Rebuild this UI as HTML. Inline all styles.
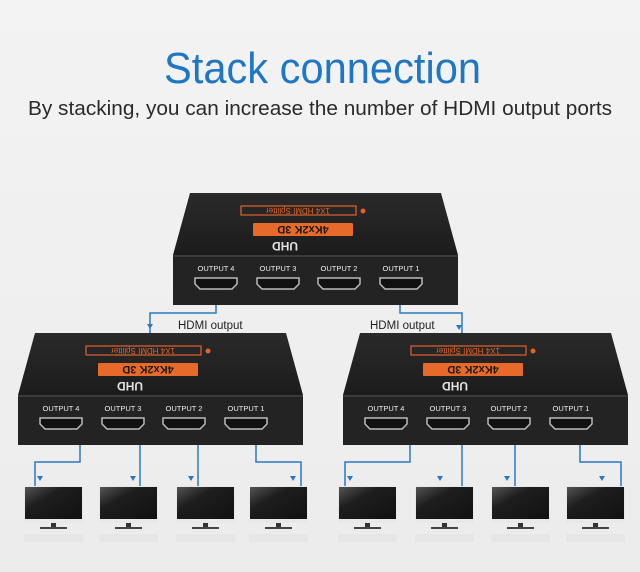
<!DOCTYPE html>
<html><head><style>html,body{margin:0;padding:0;background:#f0f0f0;}svg{display:block}</style></head>
<body>
<svg width="640" height="572" viewBox="0 0 640 572" xmlns="http://www.w3.org/2000/svg" font-family="Liberation Sans, sans-serif">
<defs>
<linearGradient id="bg" x1="0" y1="0" x2="0" y2="1"><stop offset="0" stop-color="#f3f3f3"/><stop offset="1" stop-color="#ececec"/></linearGradient>
<linearGradient id="top" x1="0" y1="0" x2="0" y2="1"><stop offset="0" stop-color="#2a2a2a"/><stop offset="1" stop-color="#1c1c1c"/></linearGradient>
<linearGradient id="scr" x1="0" y1="0" x2="1" y2="1"><stop offset="0" stop-color="#555"/><stop offset="0.35" stop-color="#1e1e1e"/><stop offset="1" stop-color="#111"/></linearGradient>
<g id="split">
<polygon points="17,0 268,0 285,62 0,62" fill="url(#top)"/>
<rect x="0" y="62" width="285" height="50" fill="#232323"/>
<rect x="0" y="62" width="285" height="2" fill="#3a3a3a"/>
<rect x="68" y="13" width="115" height="9" fill="none" stroke="#e0622a" stroke-width="1.2"/>
<text x="125" y="21" font-size="8" fill="#e0622a" text-anchor="middle" transform="rotate(180 125 18)">1X4 HDMI Splitter</text>
<circle cx="190" cy="18" r="2.5" fill="#e0622a"/>
<rect x="80" y="30" width="100" height="13" fill="#e86a2a" rx="1"/>
<text x="130" y="40" font-size="11" font-weight="bold" fill="#1a1a1a" text-anchor="middle" transform="rotate(180 130 36.5)">4Kx2K 3D</text>
<text x="112" y="58" font-size="12" font-weight="bold" fill="#e0e0e0" text-anchor="middle" transform="rotate(180 112 53.5)">UHD</text>
<g font-size="7.5" fill="#eee" text-anchor="middle">
<text x="43" y="78">OUTPUT 4</text><text x="105" y="78">OUTPUT 3</text><text x="166" y="78">OUTPUT 2</text><text x="228" y="78">OUTPUT 1</text></g>
<g fill="#111" stroke="#bbb" stroke-width="1.5">
<path d="M22,85 h42 v6 l-5,5 h-32 l-5,-5z"/><path d="M84,85 h42 v6 l-5,5 h-32 l-5,-5z"/><path d="M145,85 h42 v6 l-5,5 h-32 l-5,-5z"/><path d="M207,85 h42 v6 l-5,5 h-32 l-5,-5z"/></g>
</g>
<g id="tv">
<rect x="0" y="0" width="59" height="37" fill="#e8e8e8"/>
<rect x="1" y="1" width="57" height="32" fill="url(#scr)"/>
<rect x="27" y="37" width="5" height="4" fill="#333"/>
<rect x="16" y="41" width="27" height="2" fill="#444"/>
<rect x="0" y="48" width="59" height="8" fill="#e4e4e4" opacity="0.7"/>
</g>
</defs>
<rect width="640" height="572" fill="url(#bg)"/>
<text x="164" y="83" font-size="44" fill="#1f77c4" textLength="317" lengthAdjust="spacingAndGlyphs">Stack connection</text>
<text x="28" y="115" font-size="20" fill="#2a2a2a" textLength="584" lengthAdjust="spacingAndGlyphs">By stacking, you can increase the number of HDMI output ports</text>

<g fill="none" stroke="#2a78c0" stroke-width="1.5">
<polyline points="216,296 216,313 150,313 150,333"/>
<polyline points="400,296 400,313 462,313 462,333"/>
<polyline points="80,437 80,462 35,462 35,486"/>
<polyline points="140,437 140,486"/>
<polyline points="198,437 198,486"/>
<polyline points="256,437 256,462 301,462 301,486"/>
<polyline points="410,437 410,462 345,462 345,486"/>
<polyline points="462,437 462,486"/>
<polyline points="515,437 515,486"/>
<polyline points="580,437 580,462 621,462 621,486"/>
</g>
<g fill="#2a78c0">
<path d="M150,318 v6 h-3 l3,5 l3,-5 h-3z"/><path d="M459,319 v6 h-3 l3,5 l3,-5 h-3z"/>
<path d="M40,470 v6 h-3 l3,5 l3,-5 h-3z"/><path d="M133,470 v6 h-3 l3,5 l3,-5 h-3z"/>
<path d="M191,470 v6 h-3 l3,5 l3,-5 h-3z"/><path d="M293,470 v6 h-3 l3,5 l3,-5 h-3z"/>
<path d="M350,470 v6 h-3 l3,5 l3,-5 h-3z"/><path d="M440,470 v6 h-3 l3,5 l3,-5 h-3z"/>
<path d="M507,470 v6 h-3 l3,5 l3,-5 h-3z"/><path d="M602,470 v6 h-3 l3,5 l3,-5 h-3z"/>
</g>

<use href="#split" transform="translate(173,193)"/>
<use href="#split" transform="translate(18,333)"/>
<use href="#split" transform="translate(343,333)"/>

<text x="178" y="329" font-size="11.5" fill="#222">HDMI output</text>
<text x="370" y="329" font-size="11.5" fill="#222">HDMI output</text>

<use href="#tv" transform="translate(24,486)"/>
<use href="#tv" transform="translate(99,486)"/>
<use href="#tv" transform="translate(176,486)"/>
<use href="#tv" transform="translate(249,486)"/>
<use href="#tv" transform="translate(338,486)"/>
<use href="#tv" transform="translate(415,486)"/>
<use href="#tv" transform="translate(491,486)"/>
<use href="#tv" transform="translate(566,486)"/>
</svg>
</body></html>
